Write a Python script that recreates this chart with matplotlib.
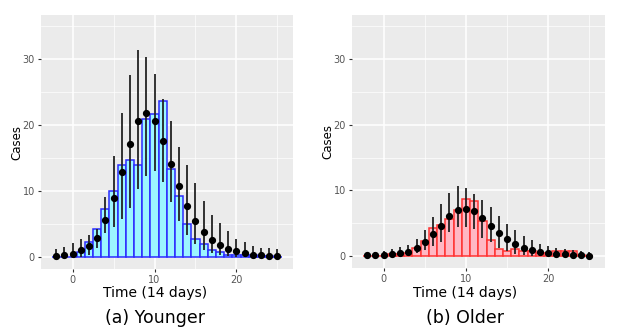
import matplotlib
matplotlib.use("Agg")
import matplotlib.pyplot as plt
from matplotlib.ticker import MultipleLocator

# waktu (bin 14 hari)
time = list(range(-2, 26))

# histogram kasus teramati
younger_bars = [0, 0, 0, 0.7, 2.3, 4.3, 7.3, 10.0, 14.0, 14.7, 14.0, 21.0, 21.7, 23.7,
                13.4, 9.3, 5.0, 2.7, 2.0, 1.05, 0.7, 0.35, 0.35, 0.25, 0.25, 0.15, 0.1, 0.05]
older_bars = [0, 0, 0, 0.3, 0.3, 0.45, 1.3, 2.3, 4.3, 4.7, 5.7, 7.0, 8.7, 8.4,
              5.35, 2.4, 1.0, 0.7, 1.0, 0.7, 0.7, 0.4, 0.4, 0.7, 0.7, 0.7, 0.1, 0.05]

# prediksi model (titik) dan interval
younger_mean = [0.15, 0.3, 0.5, 1.0, 1.7, 2.9, 5.6, 8.9, 12.9, 17.1, 20.6, 21.8, 20.6, 17.6,
                14.1, 10.7, 7.7, 5.5, 3.8, 2.6, 1.8, 1.2, 0.85, 0.55, 0.35, 0.25, 0.15, 0.1]
younger_lo = [0, 0, 0, 0, 0.3, 1.3, 3.6, 4.5, 5.7, 7.5, 10.3, 12.3, 13.1, 11.4,
              8.4, 5.5, 3.4, 1.9, 1.1, 0.55, 0.3, 0.1, 0, 0, 0, 0, 0, 0]
younger_hi = [1.2, 1.5, 2.1, 2.7, 3.3, 4.2, 9.1, 15.3, 21.9, 27.6, 31.4, 30.3, 27.8, 24.0,
              20.6, 16.7, 13.9, 11.2, 8.5, 6.3, 5.1, 3.9, 2.8, 2.3, 1.7, 1.4, 1.3, 1.2]

older_mean = [0.1, 0.15, 0.2, 0.25, 0.4, 0.6, 1.3, 2.2, 3.3, 4.6, 6.1, 7.0, 7.2, 6.8,
              5.8, 4.6, 3.5, 2.6, 1.8, 1.3, 0.9, 0.55, 0.45, 0.3, 0.25, 0.15, 0.1, 0.05]
older_lo = [0, 0, 0, 0, 0, 0.1, 0.4, 0.95, 1.6, 2.2, 3.6, 4.4, 4.4, 4.1,
            2.8, 2.1, 1.3, 0.8, 0.35, 0.1, 0, 0, 0, 0, 0, 0, 0, 0]
older_hi = [0.45, 0.55, 0.75, 1.0, 1.4, 1.7, 2.6, 3.9, 6.0, 8.0, 9.6, 10.7, 10.3, 9.5,
            8.5, 7.5, 6.1, 4.9, 4.0, 3.0, 2.4, 1.9, 1.5, 1.3, 1.1, 0.85, 0.75, 0.65]

panels = [
    ("(a) Younger", younger_bars, younger_mean, younger_lo, younger_hi, "#9CF5FF", "#2B2BFF"),
    ("(b) Older", older_bars, older_mean, older_lo, older_hi, "#FFB8C4", "#FF3333"),
]

fig = plt.figure(figsize=(6.19, 3.36), dpi=100)
W, H = 619, 336
boxes = [(41, 15, 293, 269), (352, 15, 605, 268)]
label_x = [155, 465]  # pusat teks label x / caption (piksel)

for (caption, bars, mean, lo, hi, fill, edge), (x0, y0, x1, y1), cx in zip(panels, boxes, label_x):
    ax = fig.add_axes([x0 / W, (H - y1) / H, (x1 - x0) / W, (y1 - y0) / H])
    ax.set_facecolor("#EBEBEB")
    for s in ax.spines.values():
        s.set_visible(False)

    ax.bar(time, bars, width=1.0, color=fill, edgecolor=edge, linewidth=1.1, zorder=2)
    yerr = [[m - l for m, l in zip(mean, lo)], [h - m for m, h in zip(mean, hi)]]
    ax.errorbar(time, mean, yerr=yerr, fmt="o", color="black", ecolor="#222222",
                markersize=4.2, elinewidth=1.3, capsize=0, zorder=3)

    ax.set_xlim(-3.85, 26.9)
    ax.set_ylim(-1.82, 36.7)
    ax.xaxis.set_major_locator(MultipleLocator(10))
    ax.xaxis.set_minor_locator(MultipleLocator(5))
    ax.yaxis.set_major_locator(MultipleLocator(10))
    ax.yaxis.set_minor_locator(MultipleLocator(5))
    ax.grid(which="major", color="white", linewidth=1.1, zorder=0)
    ax.grid(which="minor", color="white", linewidth=0.5, zorder=0)
    ax.set_axisbelow(True)
    ax.tick_params(which="major", length=2.5, color="#333333", labelsize=7,
                   labelcolor="#555555", pad=2)
    ax.tick_params(which="minor", length=0)

    ax.set_xlabel("Time (14 days)", fontsize=10)
    ax.xaxis.set_label_coords((cx - x0) / (x1 - x0), -(293 - y1) / (y1 - y0))
    ax.xaxis.label.set_va("center")
    ax.set_ylabel("Cases", fontsize=8.5)
    ax.yaxis.set_label_coords(-24 / (x1 - x0), 0.5)
    ax.yaxis.label.set_va("center")

    fig.text(cx / W, (H - 318) / H, caption, fontsize=12.5, ha="center", va="center")

fig.savefig("out.png", dpi=100)
plt.close(fig)
